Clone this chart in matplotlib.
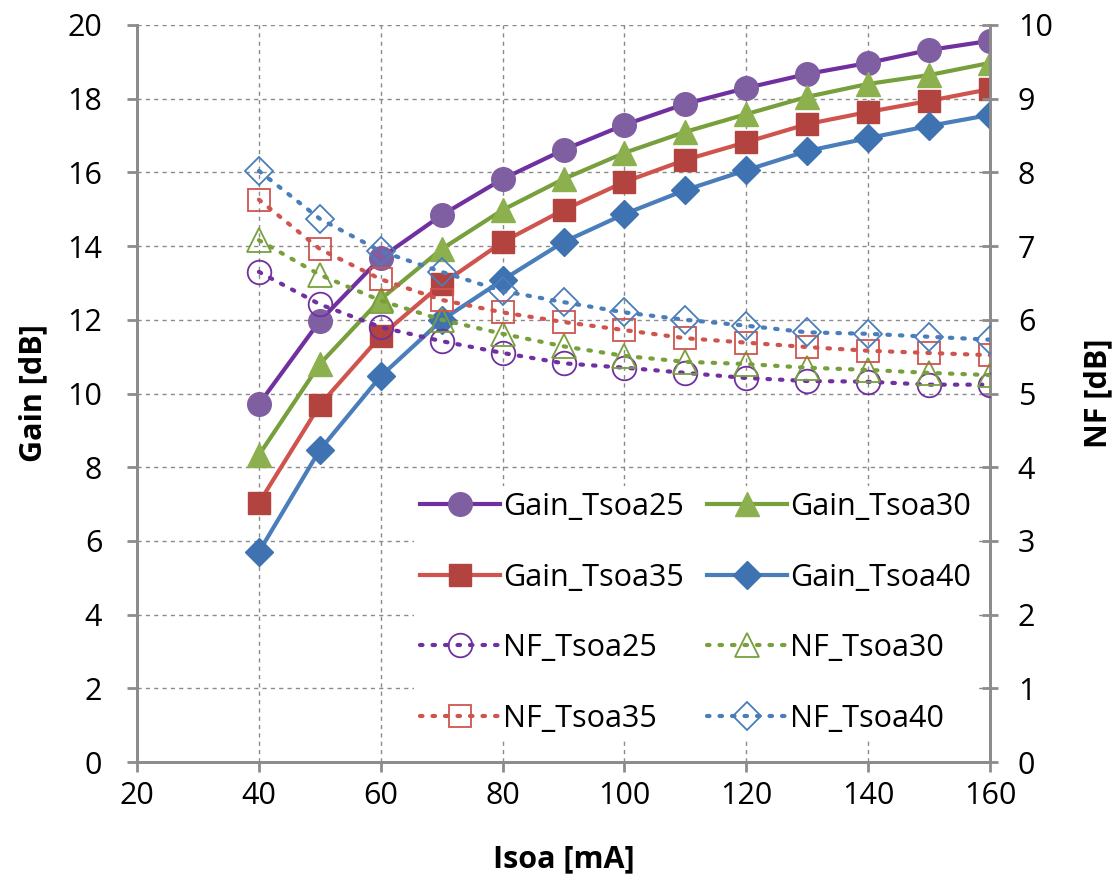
import matplotlib.pyplot as plt
import matplotlib

matplotlib.rcParams['font.family'] = ['Open Sans', 'DejaVu Sans']

# data
isoa = [40, 50, 60, 70, 80, 90, 100, 110, 120, 130, 140, 150, 160]

gain_25 = [9.71, 11.97, 13.68, 14.84, 15.82, 16.61, 17.29, 17.86, 18.29, 18.67, 18.97, 19.32, 19.57]
gain_30 = [8.33, 10.80, 12.56, 13.92, 14.98, 15.82, 16.53, 17.10, 17.58, 18.05, 18.40, 18.64, 18.97]
gain_35 = [7.03, 9.69, 11.56, 12.97, 14.11, 14.98, 15.74, 16.34, 16.82, 17.31, 17.64, 17.94, 18.26]
gain_40 = [5.70, 8.47, 10.47, 11.99, 13.08, 14.11, 14.87, 15.52, 16.06, 16.58, 16.93, 17.26, 17.56]

nf_25 = [6.65, 6.21, 5.90, 5.71, 5.55, 5.41, 5.35, 5.28, 5.21, 5.17, 5.16, 5.12, 5.12]
nf_30 = [7.08, 6.61, 6.26, 6.00, 5.81, 5.64, 5.51, 5.43, 5.40, 5.35, 5.32, 5.28, 5.25]
nf_35 = [7.63, 6.96, 6.55, 6.27, 6.10, 5.97, 5.86, 5.75, 5.69, 5.63, 5.58, 5.55, 5.52]
nf_40 = [8.02, 7.37, 6.93, 6.65, 6.39, 6.24, 6.10, 6.00, 5.92, 5.83, 5.81, 5.77, 5.73]

fig = plt.figure(figsize=(11.17, 8.82), dpi=100)
ax = fig.add_axes([0.1227, 0.136, 0.7636, 0.8357])
ax2 = ax.twinx()

# (line colour, marker colour, marker, marker size)
styles = [('#7030A0', '#7F5FA2', 'o', 17),
          ('#77A03C', '#8CB04E', '^', 17),
          ('#D0544E', '#B3433F', 's', 16),
          ('#4A7EBB', '#3F72B0', 'D', 14)]

handles = {}
for name, ys, (lc, mc, mk, ms) in zip(['Gain_Tsoa25', 'Gain_Tsoa30', 'Gain_Tsoa35', 'Gain_Tsoa40'],
                                      [gain_25, gain_30, gain_35, gain_40], styles):
    h, = ax.plot(isoa, ys, color=lc, lw=3, marker=mk, ms=ms,
                 markerfacecolor=mc, markeredgecolor=mc, label=name, zorder=5)
    handles[name] = h

for name, ys, (lc, mc, mk, ms) in zip(['NF_Tsoa25', 'NF_Tsoa30', 'NF_Tsoa35', 'NF_Tsoa40'],
                                      [nf_25, nf_30, nf_35, nf_40], styles):
    h, = ax2.plot(isoa, ys, color=lc, lw=3, ls=(0, (0.6, 2.4)), dash_capstyle='round',
                  marker=mk, ms=ms, markerfacecolor='none', markeredgecolor=lc,
                  markeredgewidth=1.3, label=name, zorder=4)
    handles[name] = h

ax.set_xlim(20, 160)
ax.set_ylim(0, 20)
ax2.set_ylim(0, 10)
ax.set_xticks(range(20, 161, 20))
ax.set_yticks(range(0, 21, 2))
ax2.set_yticks(range(0, 11, 1))

ax.grid(True, color='#8A8A8A', ls=(0, (3, 3)), lw=1)
ax.set_axisbelow(True)

for a in (ax, ax2):
    for s in a.spines.values():
        s.set_color('#8C8C8C')
        s.set_linewidth(2)
    a.spines['top'].set_visible(False)
    a.tick_params(labelsize=22, color='#8C8C8C', width=2, length=7)
ax.tick_params(axis='x', pad=7)
ax.tick_params(axis='y', pad=18)
ax2.tick_params(axis='y', direction='inout', length=12, pad=14)

ax.set_xlabel('Isoa [mA]', fontsize=22, fontweight='bold', labelpad=24)
ax.set_ylabel('Gain [dB]', fontsize=22, fontweight='bold', labelpad=14)
ax2.set_ylabel('NF [dB]', fontsize=22, fontweight='bold', labelpad=22)

order = ['Gain_Tsoa25', 'Gain_Tsoa35', 'NF_Tsoa25', 'NF_Tsoa35',
         'Gain_Tsoa30', 'Gain_Tsoa40', 'NF_Tsoa30', 'NF_Tsoa40']
leg = ax2.legend([handles[k] for k in order], order, ncol=2, loc='lower right',
                 bbox_to_anchor=(0.985, 0.03), frameon=True, fontsize=22,
                 handlelength=2.6, handletextpad=0.12, columnspacing=0.75,
                 labelspacing=1.33, borderaxespad=0.0, borderpad=0.2)
leg.get_frame().set_facecolor('white')
leg.get_frame().set_edgecolor('none')
leg.get_frame().set_alpha(1)

plt.savefig('out.png', dpi=100)
